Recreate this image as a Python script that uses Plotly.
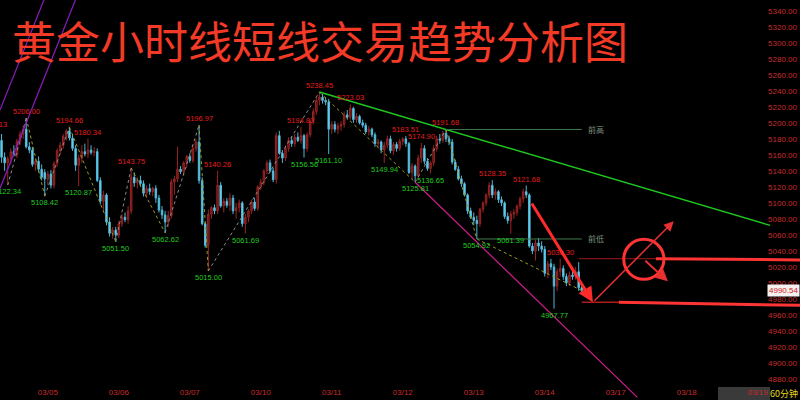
import plotly.graph_objects as go

# hourly bars, bar 0 = first visible candle (03/04 evening)
opens = [5178, 5157, 5150, 5155, 5164, 5160, 5177, 5186, 5192, 5170,
         5166, 5148, 5152, 5142, 5138, 5130, 5136, 5122, 5149, 5165,
         5172, 5183, 5190, 5181, 5168, 5147, 5156, 5164, 5161, 5166,
         5163, 5164, 5128, 5102, 5110, 5076, 5062, 5066, 5060, 5074,
         5082, 5079, 5090, 5132, 5125, 5128, 5124, 5112, 5118, 5114,
         5118, 5106, 5091, 5085, 5076, 5084, 5126, 5130, 5142, 5139,
         5150, 5158, 5153, 5168, 5176, 5128, 5074, 5047, 5086, 5094,
         5090, 5122, 5096, 5102, 5097, 5106, 5090, 5094, 5100, 5074,
         5082, 5090, 5101, 5093, 5120, 5126, 5140, 5150, 5140, 5129,
         5184, 5162, 5156, 5168, 5178, 5174, 5182, 5178, 5184, 5168,
         5185, 5202, 5214, 5228, 5232, 5228, 5226, 5192, 5198, 5192,
         5196, 5198, 5210, 5207, 5218, 5204, 5208, 5200, 5197, 5189,
         5192, 5185, 5174, 5176, 5166, 5172, 5180, 5165, 5173, 5168,
         5177, 5180, 5174, 5138, 5146, 5134, 5156, 5168, 5152, 5143,
         5150, 5168, 5180, 5178, 5187, 5180, 5176, 5151, 5142, 5130,
         5124, 5110, 5090, 5082, 5078, 5074, 5092, 5100, 5110, 5122,
         5110, 5114, 5104, 5100, 5083, 5078, 5086, 5088, 5096, 5105,
         5114, 5110, 5046, 5040, 5050, 5046, 5042, 5012, 5024, 5020,
         4996, 5014, 5018, 5008, 5000, 5010, 5008, 5014, 4994]
highs = [5186, 5163, 5158, 5168, 5172, 5180, 5190, 5196, 5206.00, 5176,
         5170, 5156, 5158, 5148, 5142, 5140, 5141, 5152, 5168, 5176,
         5186, 5192, 5194.66, 5186, 5172, 5160, 5172, 5174, 5180.34, 5172,
         5170, 5168, 5132, 5115, 5112, 5082, 5070, 5070, 5078, 5086,
         5088, 5096, 5143.75, 5138, 5132, 5134, 5128, 5122, 5124, 5120,
         5122, 5110, 5096, 5090, 5090, 5130, 5134, 5170, 5146, 5152,
         5160, 5162, 5172, 5180, 5196.97, 5132, 5076, 5092, 5096, 5098,
         5140.26, 5126, 5106, 5106, 5112, 5110, 5100, 5104, 5102, 5086,
         5092, 5104, 5106, 5122, 5130, 5142, 5153, 5154, 5144, 5188,
         5190, 5166, 5172, 5182, 5183, 5186, 5188, 5194.83, 5186, 5188,
         5204, 5218, 5232, 5238.45, 5236, 5232, 5230, 5202, 5202, 5200,
         5202, 5214, 5216, 5223.03, 5220, 5212, 5210, 5204, 5200, 5196,
         5194, 5188, 5180, 5178, 5176, 5184, 5184, 5176, 5176, 5180,
         5182, 5183.51, 5176, 5150, 5148, 5160, 5174.90, 5172, 5156, 5152,
         5172, 5184, 5186, 5190, 5191.68, 5184, 5180, 5154, 5146, 5134,
         5126, 5112, 5094, 5088, 5084, 5094, 5102, 5112, 5126, 5128.35,
         5118, 5116, 5108, 5102, 5088, 5090, 5092, 5098, 5108, 5118,
         5121.68, 5112, 5050, 5054, 5056, 5052, 5046, 5028, 5030, 5024,
         5018, 5030.30, 5022, 5012, 5014, 5016, 5020, 5026, 4998]
lows = [5150, 5140, 5122.34, 5148, 5158, 5156, 5172, 5180, 5168, 5162,
        5145, 5140, 5138, 5128, 5108.42, 5122, 5118, 5118, 5145, 5160,
        5168, 5178, 5178, 5165, 5140, 5120.87, 5150, 5158, 5156, 5160,
        5158, 5126, 5098, 5090, 5072, 5058, 5055, 5051.50, 5056, 5070,
        5076, 5074, 5086, 5120, 5118, 5120, 5108, 5106, 5110, 5108,
        5100, 5088, 5080, 5062.62, 5070, 5080, 5110, 5126, 5136, 5134,
        5144, 5150, 5150, 5164, 5124, 5072, 5044, 5015.00, 5080, 5086,
        5086, 5094, 5088, 5094, 5090, 5086, 5080, 5088, 5070, 5061.69,
        5076, 5086, 5090, 5090, 5116, 5122, 5136, 5138, 5126, 5124,
        5160, 5150, 5152, 5164, 5170, 5170, 5176, 5174, 5156.56, 5164,
        5182, 5198, 5210, 5222, 5224, 5222, 5161.10, 5186, 5188, 5186,
        5190, 5194, 5204, 5204, 5200, 5200, 5198, 5194, 5186, 5184,
        5182, 5170, 5168, 5162, 5149.94, 5168, 5162, 5160, 5164, 5165,
        5172, 5170, 5136, 5130, 5125.81, 5130, 5150, 5148, 5140, 5136.65,
        5146, 5164, 5174, 5175, 5176, 5172, 5148, 5140, 5128, 5120,
        5108, 5086, 5080, 5072, 5054.92, 5070, 5088, 5096, 5106, 5106,
        5104, 5100, 5096, 5080, 5074, 5061.39, 5080, 5084, 5092, 5100,
        5106, 5044, 5036, 5028, 5040, 5038, 5008, 5006, 5016, 4967.77,
        4990, 5008, 5004, 4996, 4996, 5004, 5004, 4990, 4986]
closes = [5157, 5150, 5155, 5164, 5160, 5177, 5186, 5192, 5170, 5166,
          5148, 5152, 5142, 5132, 5130, 5136, 5122, 5149, 5165, 5172,
          5183, 5190, 5181, 5168, 5147, 5156, 5164, 5161, 5166, 5163,
          5164, 5128, 5102, 5110, 5076, 5062, 5066, 5060, 5074, 5082,
          5079, 5090, 5132, 5125, 5128, 5124, 5112, 5118, 5114, 5118,
          5106, 5091, 5085, 5076, 5084, 5126, 5130, 5142, 5139, 5150,
          5158, 5153, 5168, 5176, 5128, 5074, 5047, 5086, 5094, 5090,
          5122, 5096, 5102, 5097, 5106, 5090, 5094, 5100, 5074, 5082,
          5090, 5101, 5093, 5120, 5126, 5140, 5150, 5140, 5129, 5184,
          5162, 5156, 5168, 5178, 5174, 5182, 5178, 5184, 5168, 5185,
          5202, 5214, 5228, 5232, 5228, 5226, 5192, 5198, 5192, 5196,
          5198, 5210, 5207, 5218, 5204, 5208, 5200, 5197, 5189, 5192,
          5185, 5174, 5176, 5166, 5172, 5180, 5165, 5173, 5168, 5177,
          5180, 5174, 5138, 5146, 5134, 5156, 5168, 5152, 5143, 5150,
          5168, 5180, 5178, 5187, 5180, 5176, 5151, 5142, 5130, 5124,
          5110, 5090, 5082, 5078, 5074, 5092, 5100, 5110, 5122, 5110,
          5114, 5104, 5100, 5083, 5078, 5086, 5088, 5096, 5105, 5114,
          5110, 5046, 5040, 5050, 5046, 5042, 5012, 5024, 5020, 4996,
          5014, 5018, 5008, 5000, 5010, 5008, 5014, 4994, 4990.54]

# swing labels (bar index, price)
high_bars = [8, 22, 28, 42, 64, 70, 97, 103, 113, 131, 136, 144, 159, 170, 181]
high_vals = [5206.00, 5194.66, 5180.34, 5143.75, 5196.97, 5140.26, 5194.83,
             5238.45, 5223.03, 5183.51, 5174.90, 5191.68, 5128.35, 5121.68, 5030.30]
low_bars = [2, 14, 25, 37, 53, 67, 79, 98, 106, 124, 134, 139, 154, 165, 179]
low_vals = [5122.34, 5108.42, 5120.87, 5051.50, 5062.62, 5015.00, 5061.69, 5156.56,
            5161.10, 5149.94, 5125.81, 5136.65, 5054.92, 5061.39, 4967.77]
offscreen_high = 5190.13   # label of a high just left of the window, only "13" shows

# zigzag pivots
zz_bars = [2, 8, 14, 22, 37, 42, 53, 64, 67, 103, 134, 144, 154, 188]
zz_vals = [5122.34, 5206.00, 5108.42, 5194.66, 5051.50, 5143.75, 5062.62,
           5196.97, 5015.00, 5238.45, 5125.81, 5191.68, 5054.92, 4990.54]

day_bars = [15, 38, 61, 84, 107, 130, 153, 176, 199, 222, 245]
day_labels = ['03/05', '03/06', '03/07', '03/10', '03/11', '03/12',
              '03/13', '03/14', '03/17', '03/18', '03/19']
price_ticks = [4880, 4900, 4920, 4940, 4960, 4980, 5000, 5020, 5040, 5060, 5080, 5100,
               5120, 5140, 5160, 5180, 5200, 5220, 5240, 5260, 5280, 5300, 5320, 5340]

last_price = closes[-1]
n = len(closes)
X_MAX = 258.7

fig = go.Figure()

# zigzag dotted legs: up legs grey, down legs olive
up_x, up_y, dn_x, dn_y = [], [], [], []
for i in range(len(zz_bars) - 1):
    seg_x = [zz_bars[i], zz_bars[i + 1], None]
    seg_y = [zz_vals[i], zz_vals[i + 1], None]
    if zz_vals[i + 1] > zz_vals[i]:
        up_x += seg_x; up_y += seg_y
    else:
        dn_x += seg_x; dn_y += seg_y
fig.add_trace(go.Scatter(x=up_x, y=up_y, mode='lines', hoverinfo='skip',
                         line=dict(color='#8c8c8c', width=1, dash='dot')))
fig.add_trace(go.Scatter(x=dn_x, y=dn_y, mode='lines', hoverinfo='skip',
                         line=dict(color='#9a9a24', width=1, dash='dot')))

fig.add_trace(go.Candlestick(
    x=list(range(n)), open=opens, high=highs, low=lows, close=closes,
    increasing=dict(line=dict(color='#9a2424', width=1), fillcolor='#5e1010'),
    decreasing=dict(line=dict(color='#4fb8d8', width=1), fillcolor='#74daf4'),
    whiskerwidth=0,
))

shapes = []
# purple channel, top-left
for x0, y0, x1, y1 in [(-0.5, 5216, 14.0, 5356), (-0.5, 5118, 24.2, 5356)]:
    shapes.append(dict(type='line', x0=x0, y0=y0, x1=x1, y1=y1,
                       line=dict(color='#8e1cc0', width=1.2)))

# green falling trendline through the two highs
h1, h2 = 103, 144
slope = (highs[h2] - highs[h1]) / (h2 - h1)
shapes.append(dict(type='line', x0=h1, y0=highs[h1], x1=249,
                   y1=highs[h1] + slope * (249 - h1),
                   line=dict(color='#1ec81e', width=1.5)))

# magenta lower line from 5125.81 low
shapes.append(dict(type='line', x0=134, y0=lows[134], x1=206, y1=4857,
                   line=dict(color='#d01c8c', width=1.2)))

# previous high / low reference lines
shapes.append(dict(type='line', x0=144, y0=highs[144], x1=188, y1=highs[144],
                   line=dict(color='#3f7a4c', width=1)))
shapes.append(dict(type='line', x0=154, y0=lows[154], x1=188, y1=lows[154],
                   line=dict(color='#3f7a4c', width=1)))

# red horizontal levels
lvl_hi = highs[181]
shapes.append(dict(type='line', x0=187, y0=lvl_hi, x1=212, y1=lvl_hi,
                   line=dict(color='#a01818', width=1)))
shapes.append(dict(type='line', x0=212, y0=lvl_hi, x1=X_MAX, y1=lvl_hi - 1.5,
                   line=dict(color='#ff3434', width=3)))
shapes.append(dict(type='line', x0=188, y0=4976, x1=200, y1=4976,
                   line=dict(color='#b01c1c', width=1.5)))
shapes.append(dict(type='line', x0=200, y0=4976, x1=X_MAX, y1=4972,
                   line=dict(color='#ff3434', width=3)))

# target circle
shapes.append(dict(type='circle', x0=201.6, x1=214.6, y0=5004.5, y1=5054.5,
                   line=dict(color='#ff3434', width=3)))

# box behind the last date label
shapes.append(dict(type='rect', xref='paper', yref='paper',
                   x0=718 / 800, x1=770 / 800, y0=0, y1=13 / 400,
                   fillcolor='#3a3a3a', line=dict(width=0), layer='below'))

annotations = []
annotations.append(dict(text='黄金小时线短线交易趋势分析图', xref='paper', yref='paper',
                        x=10 / 800, y=1 - 40 / 400, xanchor='left', yanchor='middle',
                        showarrow=False,
                        font=dict(family='Noto Sans CJK SC', size=44, color='#f23a26')))

lab_font = dict(family='Liberation Sans, Arial', size=7.5)
for b, v in zip(high_bars, high_vals):
    annotations.append(dict(x=b, y=v, text=f'{v:.2f}', showarrow=False,
                            yanchor='bottom', font=dict(lab_font, color='#e01e1e')))
for b, v in zip(low_bars, low_vals):
    annotations.append(dict(x=b, y=v, text=f'{v:.2f}', showarrow=False,
                            yanchor='top', font=dict(lab_font, color='#22c822')))
annotations.append(dict(xref='paper', x=9 / 800, y=offscreen_high, text=f'{offscreen_high:.2f}',
                        showarrow=False, xanchor='right', yanchor='bottom',
                        font=dict(lab_font, color='#e01e1e')))

annotations.append(dict(x=189.5, y=highs[144], text='前高', showarrow=False, xanchor='left',
                        font=dict(family='Noto Sans CJK SC', size=8, color='#7d937f')))
annotations.append(dict(x=189.5, y=lows[154], text='前低', showarrow=False, xanchor='left',
                        font=dict(family='Noto Sans CJK SC', size=8, color='#7d937f')))

# arrows
annotations.append(dict(x=191.6, y=4976, ax=171.5, ay=5101, axref='x', ayref='y',
                        text='', showarrow=True, arrowhead=2, arrowsize=1,
                        arrowwidth=3, arrowcolor='#ff2b2b'))
annotations.append(dict(x=217.8, y=5077, ax=191.6, ay=4976, axref='x', ayref='y',
                        text='', showarrow=True, arrowhead=2, arrowsize=1.3,
                        arrowwidth=1.5, arrowcolor='#e83030'))
annotations.append(dict(x=215.9, y=5002, ax=208.1, ay=5029.5, axref='x', ayref='y',
                        text='', showarrow=True, arrowhead=2, arrowsize=1.2,
                        arrowwidth=2, arrowcolor='#e83030'))

# last price tag
annotations.append(dict(xref='paper', x=1, y=last_price, text=f'{last_price:.2f}',
                        showarrow=False, xanchor='right', bgcolor='#f4f0f0', borderpad=1,
                        font=dict(family='Liberation Sans, Arial', size=8, color='#d01818')))
annotations.append(dict(xref='paper', yref='paper', x=1, y=7 / 400, text='60分钟',
                        showarrow=False, xanchor='right', yanchor='middle',
                        font=dict(family='Noto Sans CJK SC', size=9, color='#e8d820')))

fig.update_layout(
    width=800, height=400,
    margin=dict(l=0, r=0, t=0, b=0),
    paper_bgcolor='black', plot_bgcolor='black',
    showlegend=False,
    shapes=shapes, annotations=annotations,
    xaxis=dict(range=[-0.5, X_MAX], showgrid=False, zeroline=False,
               rangeslider=dict(visible=False), tickmode='array',
               tickvals=day_bars, ticktext=day_labels, ticks='',
               ticklabelposition='inside', tickfont=dict(family='Liberation Sans, Arial',
                                                         size=8, color='#c82c2c')),
    yaxis=dict(range=[4853.8, 5353.4], side='right', showgrid=False, zeroline=False,
               tickmode='array', tickvals=price_ticks,
               ticktext=[f'{v:.2f}' for v in price_ticks], ticks='',
               ticklabelposition='inside', tickfont=dict(family='Liberation Sans, Arial',
                                                         size=8, color='#c82c2c')),
)

fig.write_html('out.html', config={'displayModeBar': False},
               post_script="document.body.style.margin='0';")
